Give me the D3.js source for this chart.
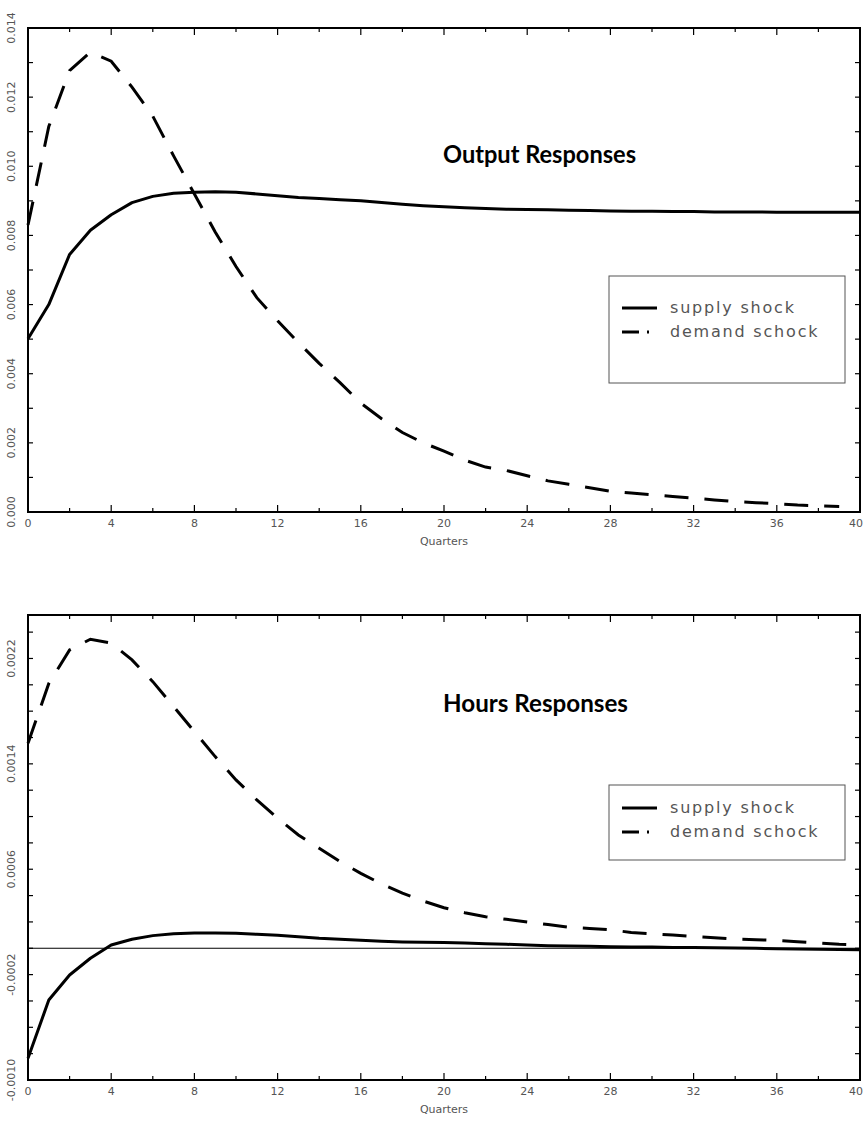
<!DOCTYPE html>
<html><head><meta charset="utf-8">
<script src="https://cdn.jsdelivr.net/npm/d3@7"></script>
<style>body{margin:0;background:#fff}</style>
</head><body>
<svg id="c" width="865" height="1127"></svg>
<script>
// ---------- DATA ----------
const quarters = d3.range(0, 41);
const outputSupply = [0.00501,0.0060,0.00745,0.00815,0.0086,0.00895,0.00913,0.00922,0.00925,0.00926,0.00925,0.0092,0.00915,0.0091,0.00907,0.00903,0.0090,0.00895,0.0089,0.00886,0.00883,0.0088,0.00878,0.00876,0.00875,0.00874,0.00873,0.00872,0.00871,0.0087,0.0087,0.00869,0.00869,0.00868,0.00868,0.00868,0.00867,0.00867,0.00867,0.00867,0.00867];
const outputDemand = [0.0083,0.01115,0.01277,0.0133,0.01304,0.01229,0.01145,0.0103,0.0092,0.0081,0.0071,0.0062,0.00553,0.0049,0.0043,0.00374,0.00315,0.0027,0.0023,0.0020,0.00176,0.0015,0.0013,0.0012,0.00105,0.0009,0.0008,0.0007,0.0006,0.00055,0.0005,0.00045,0.0004,0.00035,0.0003,0.00027,0.00024,0.0002,0.00018,0.00016];
const hoursSupply = [-0.000835,-0.000393,-0.000203,-0.000076,0.000025,0.000068,0.000096,0.000111,0.000116,0.000116,0.000114,0.000106,0.000099,0.000088,0.000076,0.000068,0.000061,0.000053,0.000048,0.000046,0.000043,0.00004,0.000035,0.00003,0.000025,0.00002,0.000018,0.000015,0.000012,0.00001,0.00001,0.000006,0.000005,0.000004,0.000002,0.0,-0.000003,-0.000005,-0.000008,-0.00001,-0.000012];
const hoursDemand = [0.001557,0.00201,0.002265,0.002346,0.002316,0.002189,0.002024,0.001835,0.001645,0.001455,0.001278,0.001126,0.000987,0.00086,0.000759,0.000658,0.000569,0.000488,0.000418,0.000359,0.000308,0.00027,0.00024,0.00022,0.0002,0.00018,0.00016,0.00015,0.00014,0.00012,0.00011,0.0001,0.00009,0.00008,0.00007,0.000065,0.00006,0.00005,0.00004,0.00003,0.000025];

const xTickValues = [0,4,8,12,16,20,24,28,32,36,40];
const xTickLabels = ["0","4","8","12","16","20","24","28","32","36","40"];
const outputTickValues = [0,0.002,0.004,0.006,0.008,0.010,0.012,0.014];
const outputTickLabels = ["0.000","0.002","0.004","0.006","0.008","0.010","0.012","0.014"];
const hoursTickValues = [-0.0010,-0.0002,0.0006,0.0014,0.0022];
const hoursTickLabels = ["-0.0010","-0.0002","0.0006","0.0014","0.0022"];
const legendLabels = ["supply shock","demand schock"];
const panelTitles = ["Output Responses","Hours Responses"];
const xAxisTitle = "Quarters";

// ---------- DRAW ----------
const svg = d3.select("#c");
svg.append("rect").attr("width",865).attr("height",1127).attr("fill","#fff");

const LABEL_FONT = "'DejaVu Sans', sans-serif";
const LABEL_COLOR = "#555";

function panel(cfg) {
  const g = svg.append("g");
  const x = d3.scaleLinear().domain([0,40]).range([cfg.left, cfg.right]);
  const y = d3.scaleLinear().domain(cfg.yDomain).range([cfg.bottom, cfg.top]);

  const xMinor = d3.range(0, 41, 2);
  const tickG = g.append("g").attr("stroke","#000").attr("stroke-width",1.2);
  xMinor.forEach(v => {
    const len = v % 4 === 0 ? 7 : 4;
    tickG.append("line").attr("x1",x(v)).attr("x2",x(v)).attr("y1",cfg.bottom).attr("y2",cfg.bottom-len);
    tickG.append("line").attr("x1",x(v)).attr("x2",x(v)).attr("y1",cfg.top).attr("y2",cfg.top+len);
  });
  cfg.yMinor.forEach(v => {
    tickG.append("line").attr("x1",cfg.left).attr("x2",cfg.left+5).attr("y1",y(v)).attr("y2",y(v));
    tickG.append("line").attr("x1",cfg.right).attr("x2",cfg.right-5).attr("y1",y(v)).attr("y2",y(v));
  });

  g.append("rect").attr("x",cfg.left).attr("y",cfg.top)
    .attr("width",cfg.right-cfg.left).attr("height",cfg.bottom-cfg.top)
    .attr("fill","none").attr("stroke","#000").attr("stroke-width",2);

  if (cfg.zeroLine) {
    g.append("line").attr("x1",cfg.left).attr("x2",cfg.right)
      .attr("y1",y(0)).attr("y2",y(0)).attr("stroke","#000").attr("stroke-width",1.2);
  }

  cfg.yTickValues.forEach((v,i) => {
    g.append("text").attr("transform",`translate(15,${y(v)}) rotate(-90)`)
      .attr("text-anchor","middle").attr("font-family",LABEL_FONT).attr("font-size",11)
      .attr("fill",LABEL_COLOR).text(cfg.yTickLabels[i]);
  });
  xTickValues.forEach((v,i) => {
    const last = i === xTickValues.length - 1;
    g.append("text").attr("x", last ? 863 : x(v)).attr("y",cfg.bottom+15)
      .attr("text-anchor", last ? "end" : "middle").attr("font-family",LABEL_FONT).attr("font-size",11)
      .attr("fill",LABEL_COLOR).text(xTickLabels[i]);
  });
  g.append("text").attr("x",(cfg.left+cfg.right)/2).attr("y",cfg.bottom+33)
    .attr("text-anchor","middle").attr("font-family",LABEL_FONT).attr("font-size",11)
    .attr("fill",LABEL_COLOR).text(xAxisTitle);

  const line = d3.line().x((d,i)=>x(quarters[i])).y(d=>y(d));
  g.append("path").datum(cfg.supply).attr("d",line).attr("fill","none")
    .attr("stroke","#000").attr("stroke-width",3).attr("stroke-linejoin","round");
  g.append("path").datum(cfg.demand).attr("d",line).attr("fill","none")
    .attr("stroke","#000").attr("stroke-width",3).attr("stroke-dasharray","24,16");

  g.append("text").attr("x",cfg.titleX).attr("y",cfg.titleY)
    .attr("font-family","Lato, 'Liberation Sans', sans-serif").attr("font-weight","bold")
    .attr("font-size",25).attr("fill","#000")
    .attr("textLength",cfg.titleW).attr("lengthAdjust","spacingAndGlyphs").text(cfg.title);

  const L = cfg.legend;
  g.append("rect").attr("x",L.x).attr("y",L.y).attr("width",L.w).attr("height",L.h)
    .attr("fill","#fff").attr("stroke","#555").attr("stroke-width",1);
  legendLabels.forEach((t,i) => {
    const ly = L.y + L.row0 + i*L.rowGap;
    g.append("line").attr("x1",L.x+13).attr("x2",L.x+48).attr("y1",ly).attr("y2",ly)
      .attr("stroke","#000").attr("stroke-width",3)
      .attr("stroke-dasharray", i===0 ? null : "17,8,2,100");
    g.append("text").attr("x",L.x+61).attr("y",ly+5).attr("font-family",LABEL_FONT)
      .attr("font-size",16).attr("fill",LABEL_COLOR).attr("letter-spacing",1.8).text(t);
  });
}

panel({
  left:28, right:860, top:28, bottom:512,
  yDomain:[0,0.014],
  yMinor:d3.range(0,15).map(k=>k*0.001),
  yTickValues:outputTickValues, yTickLabels:outputTickLabels,
  supply:outputSupply, demand:outputDemand,
  title:panelTitles[0], titleX:443, titleY:163, titleW:193,
  legend:{x:609,y:276,w:236,h:107,row0:32,rowGap:24},
  zeroLine:false
});
panel({
  left:28, right:860, top:615, bottom:1080,
  yDomain:[-0.001,0.00253],
  yMinor:d3.range(0,18).map(k=>-0.001+k*0.0002),
  yTickValues:hoursTickValues, yTickLabels:hoursTickLabels,
  supply:hoursSupply, demand:hoursDemand,
  title:panelTitles[1], titleX:443, titleY:712, titleW:185,
  legend:{x:609,y:785,w:236,h:75,row0:23,rowGap:24},
  zeroLine:true
});
</script>
</body></html>
